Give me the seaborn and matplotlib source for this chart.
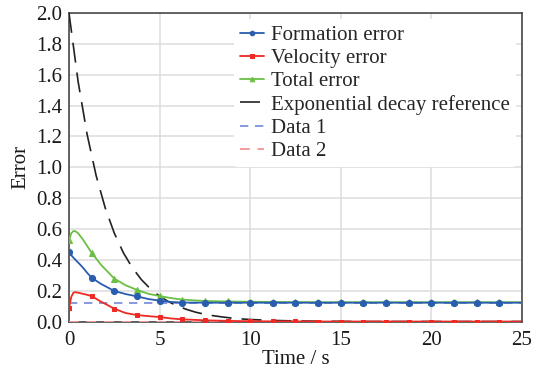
import matplotlib
matplotlib.use("Agg")
import matplotlib.pyplot as plt
import seaborn as sns
import numpy as np

# ---- data ----
t = [0, 0.125, 0.25, 0.375, 0.5, 0.75, 1.0, 1.25, 1.75, 2.5, 3.125, 3.75, 4.375, 5, 5.625, 6.25,
     7.5, 8.75, 10, 11.25, 12.5, 13.75, 15, 16.25, 17.5, 18.75, 20, 21.25, 22.5, 23.75, 25]
formation = [0.448, 0.430, 0.413, 0.398, 0.383, 0.352, 0.316, 0.284, 0.245, 0.198, 0.178, 0.163,
             0.146, 0.135, 0.127, 0.123, 0.122, 0.122, 0.122, 0.122, 0.122, 0.122, 0.122, 0.122,
             0.122, 0.122, 0.122, 0.122, 0.122, 0.122, 0.122]
velocity = [0.085, 0.160, 0.188, 0.190, 0.187, 0.180, 0.173, 0.165, 0.130, 0.083, 0.055, 0.042,
            0.035, 0.029, 0.020, 0.014, 0.008, 0.004, 0.002, 0.001, 0.001, 0.0, 0.0, 0.0, 0.0,
            0.0, 0.0, 0.0, 0.0, 0.0, 0.0]
total = [0.528, 0.572, 0.587, 0.584, 0.572, 0.535, 0.490, 0.446, 0.370, 0.278, 0.235, 0.205,
         0.180, 0.165, 0.152, 0.142, 0.133, 0.130, 0.128, 0.127, 0.126, 0.125, 0.125, 0.125,
         0.125, 0.125, 0.125, 0.125, 0.125, 0.125, 0.125]
t_exp = [0, 0.5, 1, 1.5, 2, 2.5, 3, 3.5, 4, 4.5, 5, 5.5, 6, 6.5, 7, 7.5, 8, 8.5, 9, 9.5, 10,
         11, 12, 13, 14, 15, 16, 18, 20, 22, 25]
exp_ref = [2.0, 1.558, 1.213, 0.945, 0.736, 0.573, 0.446, 0.348, 0.271, 0.211, 0.164, 0.128,
           0.100, 0.078, 0.060, 0.047, 0.037, 0.029, 0.022, 0.017, 0.013, 0.008, 0.005, 0.003,
           0.002, 0.001, 0.0, 0.0, 0.0, 0.0, 0.0]
t_const = [0, 25]
data1 = [0.122, 0.122]
data2 = [0.0, 0.0]
marker_times = [0, 1.25, 2.5, 3.75, 5, 6.25, 7.5, 8.75, 10, 11.25, 12.5, 13.75, 15, 16.25,
                17.5, 18.75, 20, 21.25, 22.5, 23.75]
x_ticks = [0, 5, 10, 15, 20, 25]
y_ticks = [0.0, 0.2, 0.4, 0.6, 0.8, 1.0, 1.2, 1.4, 1.6, 1.8, 2.0]

mark_idx = [i for i, v in enumerate(t) if v in marker_times]

sns.set_theme(style="whitegrid")
plt.rcParams['font.family'] = ['Liberation Serif', 'DejaVu Serif']

fig = plt.figure(figsize=(5.34, 3.76), dpi=100)
ax = fig.add_axes([0.1292, 0.1449, 0.9775 - 0.1292, 0.9654 - 0.1449])

blue = '#2a5db0'
red = '#ee2a24'
green = '#6cbf45'

sns.lineplot(x=t, y=formation, ax=ax, color=blue, lw=1.3, marker='o', ms=4.4,
             markevery=mark_idx, mec=blue, label='Formation error', sort=False, zorder=5)
sns.lineplot(x=t, y=velocity, ax=ax, color=red, lw=1.3, marker='s', ms=2.9,
             markevery=mark_idx, mec=red, label='Velocity error', sort=False, zorder=5)
sns.lineplot(x=t, y=total, ax=ax, color=green, lw=1.3, marker='^', ms=4.4,
             markevery=mark_idx, mec=green, label='Total error', sort=False, zorder=4)
sns.lineplot(x=t_exp, y=exp_ref, ax=ax, color='#222222', lw=1.2,
             label='Exponential decay reference', sort=False, zorder=3)
ax.lines[-1].set_dashes([12, 6])
sns.lineplot(x=t_const, y=data1, ax=ax, color='#6f87d8', lw=1.2,
             label='Data 1', sort=False, zorder=3)
ax.lines[-1].set_dashes([5, 4])
sns.lineplot(x=t_const, y=data2, ax=ax, color='#f59a9a', lw=1.4,
             label='Data 2', sort=False, zorder=3)
ax.lines[-1].set_dashes([5, 4])

ax.set_xlim(0, 25)
ax.set_ylim(0, 2.0)
ax.set_xticks(x_ticks)
ax.set_yticks(y_ticks)
ax.set_xticklabels([str(v) for v in x_ticks])
ax.set_yticklabels([f'{v:.1f}' for v in y_ticks])
ax.grid(True, color='#dcdcdc', lw=1.1)
for s in ax.spines.values():
    s.set_color('#3a3a3a')
    s.set_linewidth(1.1)
ax.tick_params(axis='both', direction='in', length=3, width=0.8, color='#3a3a3a',
               labelsize=15, labelcolor='#1a1a1a')
ax.tick_params(axis='x', pad=7)
ax.tick_params(axis='y', pad=5)
ax.set_xlabel('Time / s', fontsize=15, color='#1a1a1a', labelpad=0)
ax.set_ylabel('Error', fontsize=15, color='#1a1a1a', labelpad=4)

leg = ax.legend(loc='upper right', fontsize=15, frameon=True, framealpha=1.0,
                edgecolor='none', facecolor='white', handlelength=1.15, handletextpad=0.3,
                labelspacing=0.17, borderpad=0.3, borderaxespad=0.3, markerscale=0.75)
leg.get_frame().set_linewidth(0)

fig.savefig('out.png', dpi=100)
